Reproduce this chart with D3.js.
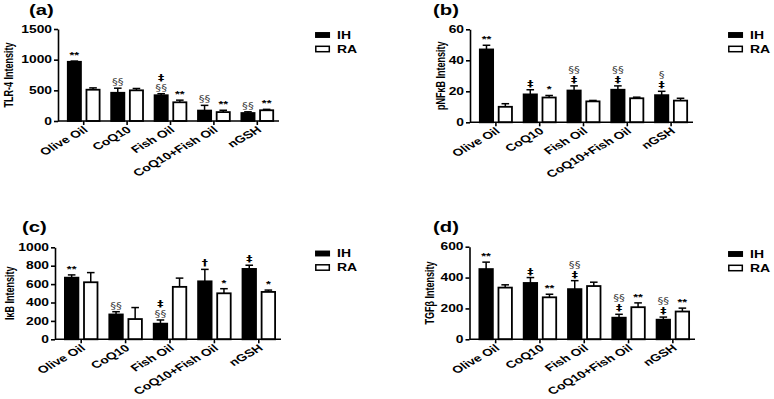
<!DOCTYPE html>
<html lang="en">
<head>
    <meta charset="utf-8">
    <title>IH vs RA intensities</title>
    <script src="https://d3js.org/d3.v7.min.js"></script>
    <style>
      body { margin: 0; background: #fff; }
      text { font-family: Arial, "Liberation Sans", sans-serif; font-weight: bold; }
    </style>
</head>
<body>
<svg id="chart"></svg>
<script>
    // categories + groups
    const categories = ["Olive Oil", "CoQ10", "Fish Oil", "CoQ10+Fish Oil", "nGSH"];
    const groups = ["IH", "RA"];

    // (a) TLR-4
    const tlr4IH = [965, 460, 420, 170, 130];
    const tlr4IHErr = [12, 75, 25, 85, 20];
    const tlr4RA = [510, 500, 305, 145, 175];
    const tlr4RAErr = [30, 30, 35, 30, 15];
    const tlr4Ticks = [0, 500, 1000, 1500];
    const tlr4MarkIH = [["**"], ["§§"], ["§§", "‡"], ["§§"], ["§§"]];
    const tlr4MarkRA = [[], [], ["**"], ["**"], ["**"]];

    // (b) pNFkB
    const nfkbIH = [47, 18, 20.5, 21, 17.5];
    const nfkbIHErr = [2.7, 3, 3, 2.5, 2.5];
    const nfkbRA = [10, 16, 13.5, 15.5, 14];
    const nfkbRAErr = [2, 1.3, 0.6, 0.7, 1.5];
    const nfkbTicks = [0, 20, 40, 60];
    const nfkbMarkIH = [["**"], ["‡"], ["‡", "§§"], ["‡", "§§"], ["‡", "§"]];
    const nfkbMarkRA = [[], ["*"], [], [], []];

    // (c) IkB
    const ikbIH = [670, 270, 170, 630, 765];
    const ikbIHErr = [30, 30, 40, 130, 40];
    const ikbRA = [620, 220, 570, 500, 515];
    const ikbRAErr = [105, 125, 95, 50, 20];
    const ikbTicks = [0, 200, 400, 600, 800, 1000];
    const ikbMarkIH = [["**"], ["§§"], ["§§", "‡"], ["†"], ["‡"]];
    const ikbMarkRA = [[], [], [], ["*"], ["*"]];

    // (d) TGFb
    const tgfIH = [455, 365, 325, 140, 127];
    const tgfIHErr = [45, 35, 55, 22, 17];
    const tgfRA = [335, 272, 345, 208, 180];
    const tgfRAErr = [18, 20, 25, 28, 22];
    const tgfTicks = [0, 200, 400, 600];
    const tgfMarkIH = [["**"], ["‡"], ["‡", "§§"], ["‡", "§§"], ["‡", "§§"]];
    const tgfMarkRA = [[], ["**"], [], ["**"], ["**"]];

    const K = 1.38; // the picture is stretched sideways, text too

    const svg = d3.select("#chart")
        .attr("width", 774)
        .attr("height", 399);

    const panels = [
        {tag: "(a)", title: "TLR-4 Intensity", ih: tlr4IH, ihErr: tlr4IHErr, ra: tlr4RA, raErr: tlr4RAErr,
         ticks: tlr4Ticks, markIH: tlr4MarkIH, markRA: tlr4MarkRA,
         ax: 58, ax1: 279, top: 29, bottom: 121, titleX: 13, tagX: 29, tagY: 15, legX: 315, legY: 35},
        {tag: "(b)", title: "pNFκB Intensity", ih: nfkbIH, ihErr: nfkbIHErr, ra: nfkbRA, raErr: nfkbRAErr,
         ticks: nfkbTicks, markIH: nfkbMarkIH, markRA: nfkbMarkRA,
         ax: 470, ax1: 693, top: 29.3, bottom: 122.3, titleX: 445, tagX: 433, tagY: 15, legX: 728, legY: 35},
        {tag: "(c)", title: "IκB Intensity", ih: ikbIH, ihErr: ikbIHErr, ra: ikbRA, raErr: ikbRAErr,
         ticks: ikbTicks, markIH: ikbMarkIH, markRA: ikbMarkRA,
         ax: 55, ax1: 281, top: 247.3, bottom: 339.3, titleX: 14, tagX: 22, tagY: 232, legX: 315, legY: 253.5},
        {tag: "(d)", title: "TGFβ Intensity", ih: tgfIH, ihErr: tgfIHErr, ra: tgfRA, raErr: tgfRAErr,
         ticks: tgfTicks, markIH: tgfMarkIH, markRA: tgfMarkRA,
         ax: 469.5, ax1: 695, top: 246.7, bottom: 339.3, titleX: 434, tagX: 433, tagY: 232, legX: 728, legY: 254}
    ];

    panels.forEach(p => {
        const g = svg.append("g");

        const y = d3.scaleLinear()
            .domain([0, d3.max(p.ticks)])
            .range([p.bottom, p.top]);

        const x0 = d3.scaleBand()
            .domain(categories)
            .range([p.ax + 4, p.ax1])
            .paddingInner(0.23)
            .paddingOuter(0.115);

        const x1 = d3.scaleBand()
            .domain(groups)
            .range([0, x0.bandwidth()])
            .paddingInner(0.21);

        // rows: one per bar
        const rows = [];
        categories.forEach((c, i) => {
            rows.push({cat: c, grp: "IH", v: p.ih[i], e: p.ihErr[i], marks: p.markIH[i]});
            rows.push({cat: c, grp: "RA", v: p.ra[i], e: p.raErr[i], marks: p.markRA[i]});
        });

        // bars
        g.selectAll("rect.bar")
            .data(rows)
            .join("rect")
            .attr("class", "bar")
            .attr("x", d => x0(d.cat) + x1(d.grp) + 0.8)
            .attr("y", d => y(d.v))
            .attr("width", x1.bandwidth() - 1.6)
            .attr("height", d => y(0) - y(d.v))
            .attr("fill", d => d.grp === "IH" ? "#000" : "#fff")
            .attr("stroke", "#000")
            .attr("stroke-width", 1.8);

        // error bars (upper only)
        const cx = d => x0(d.cat) + x1(d.grp) + x1.bandwidth() / 2;
        g.selectAll("line.err")
            .data(rows)
            .join("line")
            .attr("class", "err")
            .attr("x1", cx).attr("x2", cx)
            .attr("y1", d => y(d.v))
            .attr("y2", d => y(d.v + d.e))
            .attr("stroke", "#000")
            .attr("stroke-width", 1.5);
        g.selectAll("line.cap")
            .data(rows)
            .join("line")
            .attr("class", "cap")
            .attr("x1", d => cx(d) - 3.8).attr("x2", d => cx(d) + 3.8)
            .attr("y1", d => y(d.v + d.e))
            .attr("y2", d => y(d.v + d.e))
            .attr("stroke", "#000")
            .attr("stroke-width", 1.5);

        // significance marks, stacked bottom to top
        rows.forEach(d => {
            d.marks.forEach((m, k) => {
                const star = m.startsWith("*");
                const sect = m.startsWith("§");
                g.append("text")
                    .attr("transform", `translate(${cx(d)},${y(d.v + d.e) - 3 - k * 10}) scale(${K},1)`)
                    .attr("text-anchor", "middle")
                    .style("font-family", star ? "Arial, 'Liberation Sans', sans-serif" : "'DejaVu Sans', sans-serif")
                    .style("font-weight", sect ? "normal" : "bold")
                    .style("font-size", sect ? "8.5px" : "9px")
                    .attr("fill", sect ? "#444" : "#000")
                    .text(m);
            });
        });

        // y axis
        const yAxis = g.append("g")
            .attr("transform", `translate(${p.ax},0)`)
            .call(d3.axisLeft(y).tickValues(p.ticks).tickFormat(d3.format("d")).tickSize(4).tickSizeOuter(0));
        yAxis.select(".domain").attr("stroke-width", 1.6);
        yAxis.selectAll(".tick line").attr("stroke-width", 1.6);
        yAxis.selectAll(".tick text")
            .attr("x", null)
            .attr("transform", `translate(-6,0) scale(${K},1)`)
            .style("font-size", "10px")
            .style("font-family", "Arial, 'Liberation Sans', sans-serif")
            .attr("fill", "#000");

        // x axis
        const xAxis = g.append("g")
            .attr("transform", `translate(0,${p.bottom})`)
            .call(d3.axisBottom(x0).tickSize(4).tickSizeOuter(0));
        xAxis.select(".domain").remove();
        xAxis.append("line")
            .attr("x1", p.ax).attr("x2", p.ax1)
            .attr("stroke", "#000")
            .attr("stroke-width", 1.6);
        xAxis.selectAll(".tick line").attr("stroke-width", 1.6);
        xAxis.selectAll(".tick text")
            .attr("y", null)
            .attr("dy", null)
            .attr("transform", `translate(5,10) scale(${K},1) rotate(-38)`)
            .attr("text-anchor", "end")
            .style("font-size", "10px")
            .style("font-family", "Arial, 'Liberation Sans', sans-serif")
            .attr("fill", "#000");

        // y title
        g.append("text")
            .attr("transform", `translate(${p.titleX},${(p.top + p.bottom) / 2}) scale(1.35,1) rotate(-90)`)
            .attr("text-anchor", "middle")
            .style("font-size", "9px")
            .text(p.title);

        // panel tag
        g.append("text")
            .attr("transform", `translate(${p.tagX},${p.tagY}) scale(1.45,1)`)
            .style("font-size", "14px")
            .text(p.tag);

        // legend
        const leg = g.append("g").attr("transform", `translate(${p.legX},${p.legY})`);
        groups.forEach((grp, i) => {
            leg.append("rect")
                .attr("x", 0.8)
                .attr("y", i * 14 - 2.2 + (i === 1 ? -0.5 : 0))
                .attr("width", 13.5)
                .attr("height", i === 1 ? 5.4 : 4.4)
                .attr("fill", i === 0 ? "#000" : "#fff")
                .attr("stroke", "#000")
                .attr("stroke-width", 1.5);
            leg.append("text")
                .attr("transform", `translate(22,${i * 14 + 3.6}) scale(1.4,1)`)
                .style("font-size", "10px")
                .text(grp);
        });
    });
</script>
</body>
</html>
